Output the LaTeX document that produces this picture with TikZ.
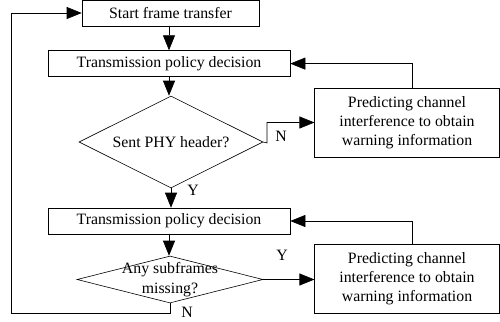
\documentclass[tikz,border=0pt]{standalone}
\usepackage{fontspec}
\setmainfont{Liberation Serif}
\usetikzlibrary{arrows.meta,shapes.geometric}
\begin{document}
\begin{tikzpicture}[x=1pt,y=-1pt,
  font=\fontsize{15.8}{19}\selectfont,
  line width=0.6pt,
  box/.style={draw,rectangle,inner sep=0pt,align=center},
  dia/.style={draw,diamond,inner sep=0pt},
  lbl/.style={inner sep=0pt,align=center},
  arr/.style={-{Triangle[length=15pt,width=12pt]}}]
\useasboundingbox (0,0) rectangle (500,321);
\node[box,minimum width=177pt,minimum height=26pt] (start) at (170.5,13) {Start frame transfer};
\node[box,minimum width=242pt,minimum height=26pt] (tpd1) at (169,63.6) {Transmission policy decision};
\node[dia,minimum width=184pt,minimum height=92pt] (d1) at (171,142) {};
\node[lbl] (d1t) at (171,142) {Sent PHY header?};
\node[box,minimum width=184.5pt,minimum height=69pt] (pred1) at (407,122.5) {Predicting channel\\interference to obtain\\warning information};
\node[box,minimum width=242pt,minimum height=26pt] (tpd2) at (169,221) {Transmission policy decision};
\node[dia,minimum width=186pt,minimum height=47pt] (d2) at (170,279.5) {};
\node[lbl,font=\fontsize{15.8}{20}\selectfont] (d2t) at (170,280) {Any subframes\\missing?};
\node[box,minimum width=184.5pt,minimum height=69pt] (pred2) at (407,278.5) {Predicting channel\\interference to obtain\\warning information};
\coordinate (c1) at (267,143);
\coordinate (c2) at (267,122.5);
\coordinate (c3) at (412,63.6);
\coordinate (c4) at (412,221);
\coordinate (c5) at (170,313);
\coordinate (c6) at (11,313);
\coordinate (c7) at (11,13);
\draw[arr] (start.south -| tpd1.north) -- (tpd1.north);
\draw[arr] (tpd1.south) -- (d1.north -| tpd1.south);
\draw[arr] (d1.east) -- (c1) -- (c2) -- (pred1.west);
\draw[arr] (c3 |- pred1.north) -- (c3) -- (tpd1.east);
\draw[arr] (d1.south) -- (d1.south |- tpd2.north);
\draw[arr] (tpd2.south) -- (tpd2.south |- d2.north);
\draw[arr] (d2.east) -- (d2.east -| pred2.west);
\draw[arr] (c4 |- pred2.north) -- (c4) -- (tpd2.east);
\draw[arr] (d2.south) -- (c5) -- (c6) -- (c7) -- (start.west);
\node[lbl] (n1) at (281,136) {N};
\node[lbl] (y1) at (193,190) {Y};
\node[lbl] (y2) at (282,255) {Y};
\node[lbl] (n2) at (187,312) {N};
\end{tikzpicture}
\end{document}
